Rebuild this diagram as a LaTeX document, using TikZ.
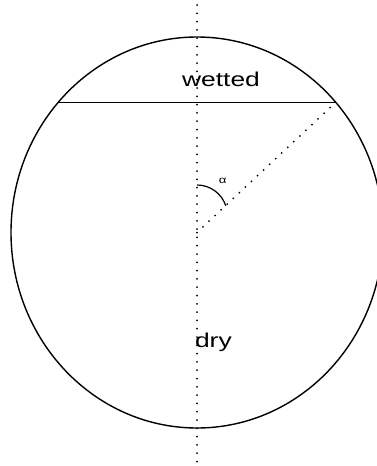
\documentclass[tikz,border=0pt]{standalone}
\usepackage{fontspec}
\newfontfamily\labfont[FakeStretch=1.32]{Liberation Sans}
\begin{document}
\begin{tikzpicture}[x=1pt,y=-1pt,
  outline/.style={line width=1.4pt},
  dotline/.style={line width=2pt, line cap=round, dash pattern=on 0pt off 8.3pt},
  lab/.style={font=\labfont\fontsize{20}{24}\selectfont, inner sep=0pt, anchor=base},
  anglab/.style={font=\labfont\fontsize{10}{12}\selectfont, inner sep=0pt}]
\useasboundingbox (0,0) rectangle (377,466);
\clip (0,0) rectangle (377,466);
\coordinate (O) at (197,232.5);
\coordinate (T) at (197,5);
\coordinate (B) at (197,461.5);
\coordinate (L) at (58.5,102.5);
\coordinate (R) at (335.5,102.5);
\coordinate (A0) at (197,185);
\draw[outline] (O) ellipse [x radius=186, y radius=195.5];
\draw[outline] (L) -- (R);
\draw[dotline] (T) -- (B);
\draw[dotline] (O) -- (R);
\draw[line width=1.2pt] (A0) arc[start angle=-90, end angle=-18.5, radius=30.3];
\node[anglab] (alpha) at (222.7,181) {α};
\node[lab] (wet) at (221,86) {wetted};
\node[lab] (dry) at (213.4,347.3) {dry};
\end{tikzpicture}
\end{document}
